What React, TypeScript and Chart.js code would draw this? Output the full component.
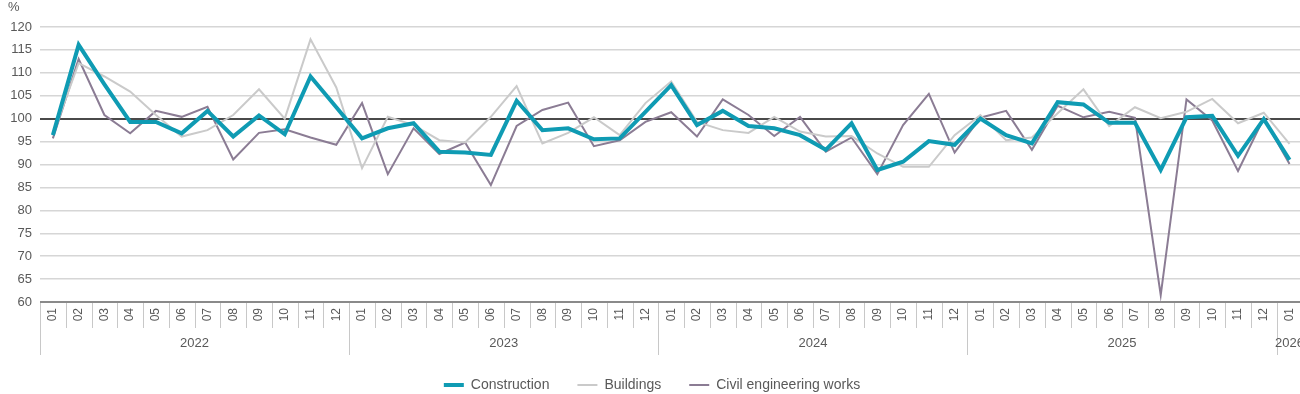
import React, { useEffect, useRef } from "react";
import { Chart, registerables } from "chart.js";

Chart.register(...registerables);

const monthLabels = [
  "01","02","03","04","05","06","07","08","09","10","11","12",
  "01","02","03","04","05","06","07","08","09","10","11","12",
  "01","02","03","04","05","06","07","08","09","10","11","12",
  "01","02","03","04","05","06","07","08","09","10","11","12",
  "01",
];
const yearLabels = ["2022", "2023", "2024", "2025", "2026"];

const construction = [
  96.4, 116.1, 107.5, 99.3, 99.3, 96.8, 101.7, 96.1, 100.7, 96.6, 109.2, 102.5,
  95.7, 97.9, 99.0, 92.8, 92.6, 92.1, 103.9, 97.5, 97.9, 95.5, 95.7, 101.5,
  107.3, 98.6, 101.7, 98.4, 97.9, 96.4, 93.2, 99.0, 88.8, 90.6, 95.1, 94.3,
  100.0, 96.4, 94.6, 103.6, 103.1, 99.1, 99.1, 88.8, 100.3, 100.6, 91.9, 99.9,
  91.0,
];
const buildings = [
  96.5, 112.1, 109.2, 105.9, 100.8, 96.1, 97.5, 100.8, 106.4, 100.0, 117.3, 106.8,
  89.2, 100.4, 98.6, 95.3, 94.8, 100.4, 107.1, 94.6, 96.9, 100.3, 96.4, 103.4,
  108.1, 99.3, 97.5, 96.9, 100.4, 97.2, 96.1, 96.2, 92.4, 89.5, 89.5, 96.4,
  100.8, 95.3, 95.9, 101.2, 106.4, 98.4, 102.5, 100.1, 101.5, 104.3, 99.0, 101.3,
  94.5,
];
const civilEngineering = [
  95.7, 113.0, 100.8, 96.8, 101.7, 100.4, 102.6, 91.1, 96.9, 97.7, 95.9, 94.3,
  103.4, 87.9, 97.9, 92.3, 94.8, 85.5, 98.4, 101.9, 103.5, 94.0, 95.3, 99.3,
  101.4, 96.1, 104.2, 100.8, 96.2, 100.4, 92.8, 95.9, 87.9, 98.6, 105.4, 92.6,
  100.2, 101.7, 93.2, 102.8, 100.3, 101.5, 100.2, 61.5, 104.2, 99.6, 88.6, 100.1,
  90.1,
];

const unitLabel = "%";
const FONT = "'Liberation Sans', Arial, sans-serif";
const TEXT = "#595959";

const extrasPlugin = {
  id: "extras",
  afterDraw(chart: any) {
    const { ctx, chartArea } = chart;
    const x = chart.scales.x;
    const n = monthLabels.length;
    const w = (chartArea.right - chartArea.left) / n;
    const bottom = chartArea.bottom;
    ctx.save();
    // unit label
    ctx.fillStyle = TEXT;
    ctx.font = `13px ${FONT}`;
    ctx.textAlign = "left";
    ctx.textBaseline = "middle";
    ctx.fillText(unitLabel, 8, 7);
    // separators
    ctx.strokeStyle = "#c8c8c8";
    ctx.lineWidth = 1;
    const yearStarts: number[] = [];
    monthLabels.forEach((m, i) => {
      if (m === "01") yearStarts.push(i);
    });
    for (let i = 0; i <= n; i++) {
      const px = Math.round(x.left + i * w) + 0.5;
      const isYear = yearStarts.includes(i);
      ctx.beginPath();
      ctx.moveTo(px, bottom + 1);
      ctx.lineTo(px, bottom + (isYear ? 53 : 26));
      ctx.stroke();
    }
    // year labels
    ctx.font = `13px ${FONT}`;
    ctx.textAlign = "center";
    ctx.fillStyle = TEXT;
    yearStarts.forEach((s, k) => {
      const e = k + 1 < yearStarts.length ? yearStarts[k + 1] : n;
      const cx = (x.getPixelForValue(s) + x.getPixelForValue(e - 1)) / 2;
      ctx.fillText(yearLabels[k], cx, bottom + 41);
    });
    ctx.restore();
  },
};

export default function App() {
  const ref = useRef<HTMLCanvasElement | null>(null);
  useEffect(() => {
    if (!ref.current) return;
    Chart.defaults.font.family = FONT;
    const chart = new Chart(ref.current, {
      type: "line",
      data: {
        labels: monthLabels,
        datasets: [
          {
            label: "Construction",
            data: construction,
            borderColor: "#0f9bb3",
            backgroundColor: "#0f9bb3",
            borderWidth: 4,
            pointRadius: 0,
            pointStyle: "line",
            tension: 0,
          },
          {
            label: "Buildings",
            data: buildings,
            borderColor: "#cacaca",
            backgroundColor: "#cacaca",
            borderWidth: 2,
            pointRadius: 0,
            pointStyle: "line",
            tension: 0,
          },
          {
            label: "Civil engineering works",
            data: civilEngineering,
            borderColor: "#8b7c94",
            backgroundColor: "#8b7c94",
            borderWidth: 2,
            pointRadius: 0,
            pointStyle: "line",
            tension: 0,
          },
        ],
      },
      options: {
        responsive: false,
        animation: false,
        layout: { padding: { top: 27, right: 6, left: 0, bottom: 0 } },
        plugins: {
          tooltip: { enabled: false },
          legend: {
            position: "bottom",
            labels: {
              usePointStyle: true,
              pointStyleWidth: 20,
              padding: 28,
              color: TEXT,
              font: { size: 14, family: FONT },
            },
          },
        },
        scales: {
          x: {
            type: "category",
            offset: true,
            border: { display: false },
            grid: { display: false, drawTicks: false },
            ticks: {
              autoSkip: false,
              minRotation: 90,
              maxRotation: 90,
              padding: 6,
              color: TEXT,
              font: { size: 12, family: FONT },
            },
            afterFit: (s: any) => {
              s.height = 48;
            },
          },
          y: {
            min: 60,
            max: 120,
            border: { display: false },
            grid: {
              drawTicks: false,
              color: (c: any) =>
                c.tick && c.tick.value === 100
                  ? "#4a4a4a"
                  : c.tick && c.tick.value === 60
                  ? "#8a8a8a"
                  : "#d6d6d6",
              lineWidth: (c: any) =>
                c.tick && (c.tick.value === 100 || c.tick.value === 60) ? 2 : 1.5,
            },
            ticks: {
              stepSize: 5,
              padding: 8,
              color: TEXT,
              font: { size: 13, family: FONT },
            },
            afterFit: (s: any) => {
              s.width = 40;
            },
          },
        },
      },
      plugins: [extrasPlugin],
    });
    return () => chart.destroy();
  }, []);
  return (
    <div
      style={{
        position: "absolute",
        left: 0,
        top: 0,
        width: 1300,
        height: 394,
        overflow: "hidden",
        background: "#fff",
      }}
    >
      <canvas ref={ref} width={1310} height={402} style={{ display: "block" }} />
    </div>
  );
}
